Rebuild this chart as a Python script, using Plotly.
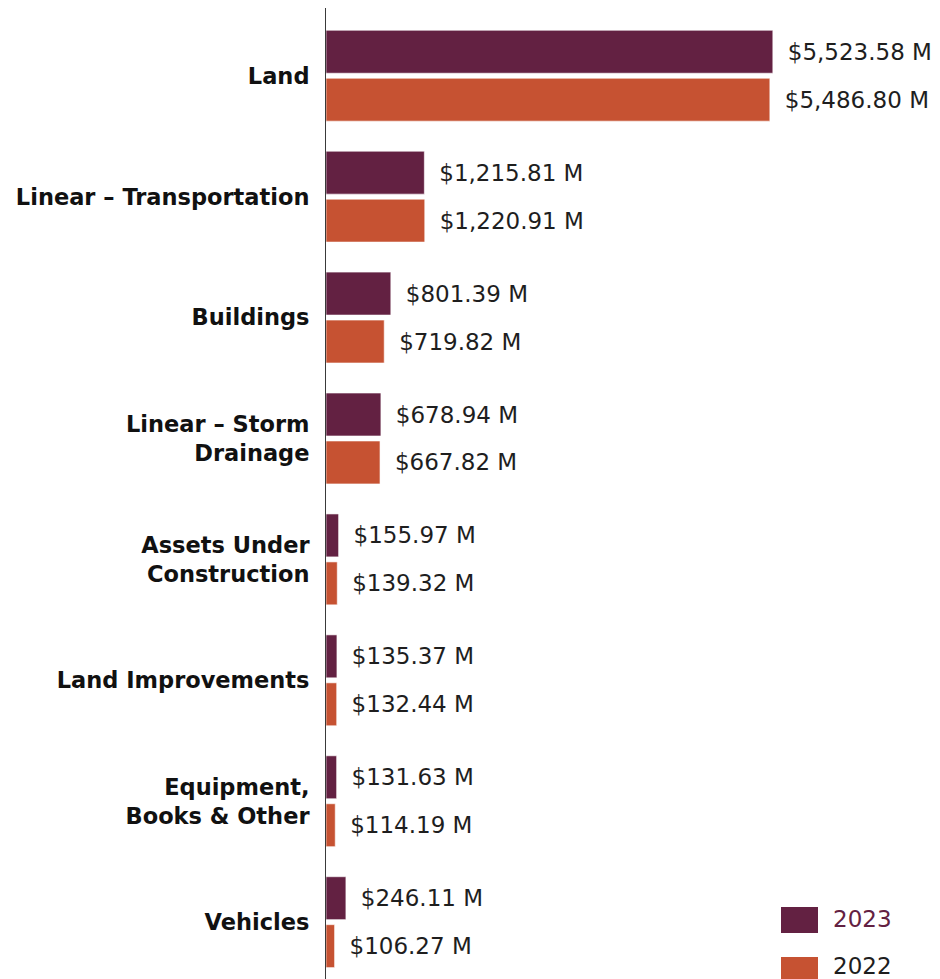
import plotly.graph_objects as go

# Capital asset categories (top to bottom) and values in millions of dollars
categories = [
    "Land",
    "Linear – Transportation",
    "Buildings",
    "Linear – Storm<br>Drainage",
    "Assets Under<br>Construction",
    "Land Improvements",
    "Equipment,<br>Books & Other",
    "Vehicles",
]
values_2023 = [5523.58, 1215.81, 801.39, 678.94, 155.97, 135.37, 131.63, 246.11]
values_2022 = [5486.80, 1220.91, 719.82, 667.82, 139.32, 132.44, 114.19, 106.27]
series_names = ["2023", "2022"]

PURPLE = "#632142"
ORANGE = "#C65232"
FONT = "DejaVu Sans"

W, H = 940, 979
M_L, M_R, M_T, M_B = 326, 0, 8, 0

fig = go.Figure()
for name, vals, color in [(series_names[0], values_2023, PURPLE),
                          (series_names[1], values_2022, ORANGE)]:
    fig.add_trace(go.Bar(
        y=categories,
        x=vals,
        name=name,
        orientation="h",
        marker=dict(color=color, line=dict(color="rgba(255,255,255,0.6)", width=1)),
        texttemplate="\u00a0\u2009$%{x:,.2f} M",
        textposition="outside",
        constraintext="none",
        cliponaxis=False,
        textfont=dict(family=FONT, size=23, color="#1e1e1e"),
        showlegend=False,
    ))

# Custom legend: large swatches with labels at the lower right
def px_x(px):
    return (px - M_L) / (W - M_L - M_R)

def px_y(py):
    return (H - M_B - py) / (H - M_T - M_B)

legend_items = [
    (series_names[0], PURPLE, PURPLE, 907, 933, -1),
    (series_names[1], ORANGE, "#1e1e1e", 957, 983, -4),
]
for label, color, txt_color, y0, y1, dy in legend_items:
    fig.add_shape(type="rect", xref="paper", yref="paper",
                  x0=px_x(781), x1=px_x(818), y0=px_y(y1), y1=px_y(y0),
                  fillcolor=color, line=dict(width=0))
    fig.add_annotation(xref="paper", yref="paper", x=px_x(831), y=px_y((y0 + y1) / 2 + dy),
                       text=label, showarrow=False, xanchor="left", yanchor="middle",
                       font=dict(family=FONT, size=23, color=txt_color))

fig.update_layout(
    width=W, height=H,
    margin=dict(l=M_L, r=M_R, t=M_T, b=M_B),
    paper_bgcolor="white", plot_bgcolor="white",
    barmode="group",
    bargap=0.207,
    bargroupgap=0.104,
    xaxis=dict(visible=False, range=[0, 7590]),
    yaxis=dict(
        range=[7.47, -0.56],
        showline=True, linecolor="#3a3a3a", linewidth=1,
        showgrid=False, zeroline=False,
        ticks="", ticklabelstandoff=11,
        tickfont=dict(family=FONT, size=22.5, color="#111111", weight="bold"),
    ),
)

fig.write_html("out.html")
